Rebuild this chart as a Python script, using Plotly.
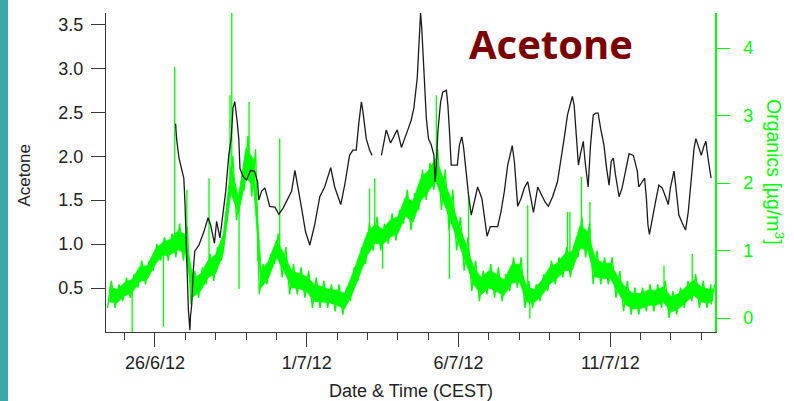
import numpy as np
import pandas as pd
import plotly.graph_objects as go

# ---------------- data (days since 26/6/12 00:00) ----------------
acetone_day = [0.68, 0.71, 0.79, 0.87, 0.95, 0.99, 1.02, 1.06, 1.10, 1.15, 1.17, 1.21, 1.26, 1.31,
               1.45, 1.61, 1.75, 1.83, 1.96, 2.03, 2.14, 2.25, 2.33, 2.43, 2.51, 2.57, 2.63, 2.71,
               2.76, 2.80, 2.90, 3.02, 3.15, 3.28, 3.38, 3.42, 3.51, 3.62, 3.78, 3.95, 4.08, 4.22,
               4.38, 4.50, 4.61, 4.74, 4.83, 4.96, 5.10, 5.26, 5.43, 5.59, 5.79, 5.92, 6.12, 6.25,
               6.41, 6.52, 6.63, 6.71, 6.80, 6.85, 6.96, 7.07, 7.15, None, 7.46, 7.62, 7.76, 7.87,
               7.98, 8.12, 8.25, 8.33, 8.44, 8.53, 8.64, 8.68, 8.72, 8.75, 8.79, 8.86, 8.94, 9.01,
               9.10, 9.19, 9.23, 9.27, 9.32, 9.41, 9.48, 9.60, 9.65, 9.70, 9.76, 9.87, 9.96, 10.03,
               10.11, 10.17, 10.25, 10.33, 10.42, 10.50, 10.63, 10.77, 10.86, 10.94, 11.05, 11.18,
               11.29, 11.40, 11.51, 11.62, 11.71, 11.77, 11.84, 11.90, 11.95, 12.06, 12.17, 12.28,
               12.37, 12.47, 12.61, 12.74, 12.85, 12.96, 13.10, 13.26, 13.37, 13.48, 13.59, 13.67,
               13.75, 13.81, 13.86, 13.91, 13.95, 14.02, 14.11, 14.17, 14.22, 14.27, 14.35, 14.44,
               14.52, 14.60, 14.68, 14.79, 14.88, 14.96, 15.03, 15.10, 15.17, 15.29, 15.39, 15.50,
               15.62, 15.76, 15.89, 15.94, 16.05, 16.13, 16.19, 16.24, 16.29, 16.38, 16.49, 16.60,
               16.71, 16.82, 16.91, 16.98, 17.10, 17.17, 17.26, 17.37, 17.48, 17.57, 17.64, 17.76,
               17.82, 17.89, 18.00, 18.08, 18.15, 18.22, 18.32]
acetone_val = [2.37, 2.20, 1.98, 1.86, 1.75, 1.45, 1.20, 0.69, 0.25, 0.02, 0.18, 0.31, 0.69, 0.92,
               0.99, 1.14, 1.30, 1.22, 1.01, 1.26, 1.07, 1.37, 1.60, 2.01, 2.20, 2.55, 2.62, 2.39,
               2.20, 1.86, 1.77, 1.73, 1.84, 1.83, 1.71, 1.50, 1.60, 1.64, 1.43, 1.42, 1.34, 1.41,
               1.52, 1.60, 1.84, 1.60, 1.41, 1.14, 0.99, 1.22, 1.54, 1.65, 1.87, 1.65, 1.45, 1.67,
               2.01, 2.07, 2.07, 2.36, 2.62, 2.51, 2.20, 2.07, 2.01, None, 2.01, 2.30, 2.15, 2.22,
               2.30, 2.10, 2.24, 2.30, 2.41, 2.55, 2.89, 3.17, 3.47, 3.63, 3.45, 2.96, 2.43, 2.20,
               2.13, 2.01, 1.71, 1.90, 2.28, 2.62, 2.73, 2.75, 2.58, 2.30, 1.90, 1.90, 1.90, 2.13,
               2.22, 2.09, 1.79, 1.56, 1.33, 1.45, 1.65, 1.52, 1.30, 1.09, 1.20, 1.20,
               1.20, 1.37, 1.60, 1.90, 2.05, 2.12, 1.94, 1.60, 1.43, 1.52, 1.64, 1.71,
               1.52, 1.36, 1.65, 1.56, 1.48, 1.43, 1.54, 1.71, 1.94, 2.20, 2.47, 2.58,
               2.68, 2.58, 2.32, 2.09, 1.90, 2.03, 2.17, 1.94, 1.75, 1.65, 2.13, 2.47,
               2.49, 2.49, 2.32, 2.13, 1.86, 1.67, 1.94, 1.98, 1.79, 1.54, 1.64, 1.83,
               2.03, 2.01, 1.83, 1.65, 1.71, 1.75, 1.52, 1.22, 1.11, 1.30, 1.48, 1.67,
               1.64, 1.54, 1.45, 1.64, 1.83, 1.62, 1.33, 1.24, 1.16, 1.37, 1.67, 2.09,
               2.20, 2.13, 2.01, 2.11, 2.17, 1.98, 1.75]

# Organics: low / high envelope of the noisy trace, read every 0.25 day
org_day = [-1.5, -1.25, -1.0, -0.75, -0.5, -0.25, 0.0, 0.25, 0.5, 0.75, 1.0, 1.25, 1.5, 1.75,
           2.0, 2.25, 2.5, 2.75, 3.0, 3.25, 3.5, 3.75, 4.0, 4.25, 4.5, 4.75, 5.0, 5.25, 5.5,
           5.75, 6.0, 6.25, 6.5, 6.75, 7.0, 7.25, 7.5, 7.75, 8.0, 8.25, 8.5, 8.75, 9.0, 9.25,
           9.5, 9.75, 10.0, 10.25, 10.5, 10.75, 11.0, 11.25, 11.5, 11.75, 12.0, 12.25, 12.5,
           12.75, 13.0, 13.25, 13.5, 13.75, 14.0, 14.25, 14.5, 14.75, 15.0, 15.25, 15.5, 15.75,
           16.0, 16.25, 16.5, 16.75, 17.0, 17.25, 17.5, 17.75, 18.0, 18.25, 18.38]
org_lo = [0.15, 0.15, 0.25, 0.30, 0.45, 0.50, 0.70, 0.85, 0.85, 0.90, 0.85, 0.20, 0.30, 0.50,
          0.55, 0.85, 1.70, 1.45, 1.90, 1.80, 0.35, 0.50, 0.80, 0.60, 0.35, 0.35, 0.30, 0.15, 0.15,
          0.15, 0.10, 0.05, 0.25, 0.55, 0.80, 1.00, 1.00, 1.10, 1.15, 1.40, 1.30, 1.60, 1.75, 1.90,
          1.60, 1.30, 1.00, 0.70, 0.40, 0.25, 0.35, 0.30, 0.25, 0.40, 0.45, 0.15, 0.15,
          0.25, 0.40, 0.50, 0.60, 0.60, 0.90, 0.90, 0.50, 0.50, 0.50, 0.30, 0.10, 0.05,
          0.05, 0.10, 0.10, 0.15, 0.00, 0.05, 0.15, 0.25, 0.15, 0.15, 0.20]
org_hi = [0.55, 0.50, 0.60, 0.65, 0.85, 0.85, 1.10, 1.20, 1.25, 1.40, 1.35, 0.70, 0.75, 0.95,
          1.05, 1.35, 2.40, 1.90, 2.70, 2.50, 0.80, 0.95, 1.25, 1.05, 0.80, 0.75, 0.70, 0.60, 0.55,
          0.50, 0.50, 0.45, 0.75, 1.05, 1.40, 1.50, 1.40, 1.55, 1.60, 1.90, 1.85, 2.20, 2.30, 2.50,
          2.20, 1.90, 1.50, 1.20, 0.85, 0.70, 0.80, 0.75, 0.65, 0.90, 0.90, 0.55, 0.50,
          0.65, 0.85, 0.90, 1.05, 1.10, 1.50, 1.40, 1.00, 0.90, 0.90, 0.70, 0.55, 0.45,
          0.45, 0.50, 0.50, 0.55, 0.40, 0.45, 0.55, 0.65, 0.55, 0.50, 0.50]

# isolated spikes of the organics trace
spike_day = [-0.75, 0.28, 0.65, 1.05, 1.78, 2.47, 2.53, 2.77, 3.10, 3.39, 4.11, 7.07, 7.24,
             7.50, 9.27, 9.70, 10.33, 12.28, 12.35, 13.59, 13.67, 14.05, 14.33, 16.77, 17.70]
spike_val = [-0.21, -0.13, 3.72, 1.90, 2.07, 3.30, 4.52, 0.43, 3.20, 0.83, 2.66, 1.92, 2.07,
             0.73, 3.30, 0.58, 1.82, 1.67, -0.01, 1.57, 1.57, 2.09, 1.72, 0.78, 0.95]

tick_days = [0, 5, 10, 15]
tick_text = ["26/6/12", "1/7/12", "6/7/12", "11/7/12"]
acetone_ticks = [0.5, 1.0, 1.5, 2.0, 2.5, 3.0, 3.5]
organics_ticks = [0, 1, 2, 3, 4]

# ---------------- helpers ----------------
BASE = pd.Timestamp("2012-06-26")


def to_dt(days):
    return [None if d is None else BASE + pd.Timedelta(days=float(d)) for d in days]


W, H = 794, 401
ML, MR, MT, MB = 106, 79, 13, 69
PW, PH = W - ML - MR, H - MT - MB
LIME = "#00ff00"
AXC = "#3a3a3a"
FONT = "Liberation Sans, Arial, sans-serif"


def px_x(p):
    return (p - ML) / PW


def px_y(p):
    return (H - MB - p) / PH


lo = np.array(org_lo)
hi = np.array(org_hi)
core_lo = lo + 0.22 * (hi - lo)
core_hi = hi - 0.22 * (hi - lo)

# zig-zag between low and high envelope gives the noisy texture
zz_day, zz_val = [], []
for d, l, h in zip(org_day, org_lo, org_hi):
    zz_day += [d - 0.0625, d + 0.0625]
    zz_val += [l, h]

mid = (lo + hi) / 2
sp_x, sp_y = [], []
for d, v in zip(spike_day, spike_val):
    base_v = float(np.interp(d, org_day, mid))
    sp_x += [d, d, None]
    sp_y += [base_v, v, None]

fig = go.Figure()
# organics on primary axis (drawn below)
fig.add_trace(go.Scatter(x=to_dt(org_day), y=core_lo, mode="lines",
                         line=dict(color=LIME, width=0.8), yaxis="y"))
fig.add_trace(go.Scatter(x=to_dt(org_day), y=core_hi, mode="lines", fill="tonexty",
                         fillcolor=LIME, line=dict(color=LIME, width=0.8), yaxis="y"))
fig.add_trace(go.Scatter(x=to_dt(zz_day), y=zz_val, mode="lines",
                         line=dict(color=LIME, width=1.4), yaxis="y"))
fig.add_trace(go.Scatter(x=to_dt(sp_x), y=sp_y, mode="lines",
                         line=dict(color=LIME, width=1.3), yaxis="y"))
# acetone on overlaying axis (drawn on top)
fig.add_trace(go.Scatter(x=to_dt(acetone_day), y=acetone_val, mode="lines",
                         line=dict(color="#1a1a1a", width=1.3), yaxis="y2",
                         connectgaps=False))

fig.update_layout(
    width=W, height=H,
    margin=dict(l=ML, r=MR, t=MT, b=MB, pad=0),
    paper_bgcolor="white", plot_bgcolor="white",
    showlegend=False,
    font=dict(family=FONT, size=18, color="#222222"),
    xaxis=dict(
        type="date",
        range=[BASE + pd.Timedelta(days=-1.614), BASE + pd.Timedelta(days=18.45)],
        tickvals=to_dt(tick_days), ticktext=tick_text,
        ticks="outside", ticklen=14, tickwidth=1.3, tickcolor=AXC,
        showline=True, linecolor=AXC, linewidth=1.3,
        showgrid=False, zeroline=False,
        tickfont=dict(family=FONT, size=18, color="#222222"),
        minor=dict(ticks="outside", ticklen=7, tickwidth=1.3, tickcolor=AXC,
                   dtick=86400000, tick0="2012-06-26", showgrid=False),
    ),
    yaxis=dict(
        side="right",
        range=[-0.207, 4.519],
        tickvals=organics_ticks, ticktext=[str(v) for v in organics_ticks],
        ticks="outside", ticklen=13, tickwidth=1.3, tickcolor=LIME,
        showline=True, linecolor=LIME, linewidth=1.5,
        showgrid=False, zeroline=False,
        tickfont=dict(family=FONT, size=18, color=LIME),
        ticklabelstandoff=10,
    ),
    yaxis2=dict(
        side="left", overlaying="y",
        range=[0.0, 3.63],
        tickvals=acetone_ticks, ticktext=["%.1f" % v for v in acetone_ticks],
        ticks="outside", ticklen=14, tickwidth=1.3, tickcolor=AXC,
        showline=True, linecolor=AXC, linewidth=1.3,
        showgrid=False, zeroline=False,
        tickfont=dict(family=FONT, size=18, color="#222222"),
        ticklabelstandoff=4,
    ),
    shapes=[dict(type="rect", xref="paper", yref="paper",
                 x0=px_x(0), x1=px_x(8), y0=px_y(H), y1=px_y(0),
                 fillcolor="#3aa8a6", line=dict(width=0), layer="above")],
    annotations=[
        dict(text="<b>Acetone</b>", xref="paper", yref="paper",
             x=px_x(551), y=px_y(44), xanchor="center", yanchor="middle",
             showarrow=False, font=dict(family="Open Sans, sans-serif", size=40, color="#7b0000")),
        dict(text="Acetone", xref="paper", yref="paper",
             x=px_x(23.5), y=px_y(176), xanchor="center", yanchor="middle", textangle=-90,
             showarrow=False, font=dict(family=FONT, size=17, color="#222222")),
        dict(text="Date &amp; Time (CEST)", xref="paper", yref="paper",
             x=px_x(410.8), y=px_y(391), xanchor="center", yanchor="middle",
             showarrow=False, font=dict(family=FONT, size=18, color="#222222")),
        dict(text="Organics [µg/m<sup>3</sup>]", xref="paper", yref="paper",
             x=px_x(775), y=px_y(172), xanchor="center", yanchor="middle", textangle=90,
             showarrow=False, font=dict(family=FONT, size=19.5, color=LIME)),
    ],
)

fig.write_html("out.html",
               config={"displayModeBar": False},
               post_script="document.body.style.margin='0px';"
                           "document.body.style.overflow='hidden';")
